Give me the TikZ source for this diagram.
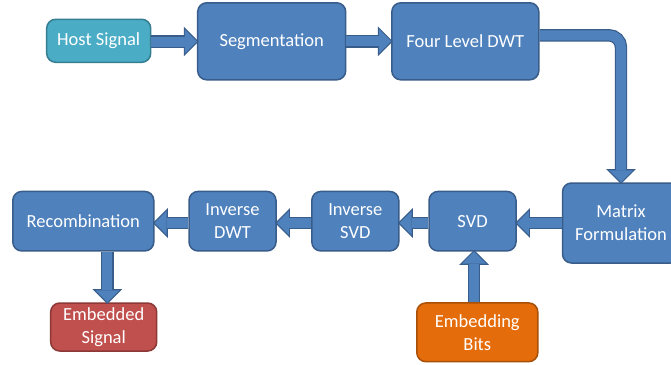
\documentclass[tikz,border=0pt]{standalone}
\usepackage{fontspec}
\setmainfont{Carlito}
\usetikzlibrary{arrows.meta}
\definecolor{fblue}{HTML}{4F81BD}
\definecolor{eblue}{HTML}{385D8A}
\definecolor{fteal}{HTML}{4BACC6}
\definecolor{eteal}{HTML}{357D91}
\definecolor{fred}{HTML}{C0504D}
\definecolor{ered}{HTML}{8C3836}
\definecolor{forange}{HTML}{E46C0A}
\definecolor{eorange}{HTML}{A85008}
\tikzset{
  box/.style={draw=eblue, fill=fblue, line width=1.5pt, rounded corners=9pt,
    text=white, align=center, font=\fontsize{18.5}{23}\selectfont, inner sep=0pt},
  barrow/.style={draw=fblue, line width=10pt,
    -{Triangle[length=12pt,width=24pt,line width=0pt]},
    preaction={draw=eblue, line width=12.4pt, shorten >=-1.7pt,
      -{Triangle[length=14.9pt,width=29.8pt,line width=0pt]}}},
  cornerarrow/.style={barrow, rounded corners=12pt},
}
\begin{document}
\begin{tikzpicture}[x=1pt,y=-1pt]
\clip (0,0) rectangle (671,364);
\fill[white] (0,0) rectangle (671,364);
\node[box, fill=fteal, draw=eteal, minimum width=104pt, minimum height=43pt] (host) at (98.7,40.8) {Host Signal};
\node[box, minimum width=148pt, minimum height=77pt] (seg) at (271.7,41.3) {Segmentation};
\node[box, minimum width=147pt, minimum height=77pt] (dwt) at (465.3,41.3) {Four Level DWT};
\node[box, minimum width=117pt, minimum height=80pt] (mat) at (621,223) {Matrix\\Formulation};
\node[box, minimum width=87pt, minimum height=59.5pt] (svd) at (472.5,221.2) {SVD};
\node[box, minimum width=87pt, minimum height=59.5pt] (isvd) at (355.3,221.2) {Inverse\\SVD};
\node[box, minimum width=87pt, minimum height=59.5pt] (idwt) at (232.5,221.2) {Inverse\\DWT};
\node[box, minimum width=141pt, minimum height=59.5pt] (rec) at (83.3,221.2) {Recombination};
\node[box, fill=fred, draw=ered, minimum width=106pt, minimum height=48pt] (emb) at (103.7,327) {Embedded\\Signal};
\node[box, fill=forange, draw=eorange, minimum width=121pt, minimum height=58.7pt] (bits) at (477.3,332.3) {Embedding\\Bits};

\draw[barrow] ([yshift=-0.7pt]host.east) -- ([yshift=-0.7pt]host.east -| seg.west);
\draw[barrow] (seg.east) -- (dwt.west);
\draw[cornerarrow] ([yshift=6pt]dwt.east) -| (mat.north);
\draw[barrow] (mat.west) -- (mat.west -| svd.east);
\draw[barrow] ([yshift=-1.8pt]svd.west) -- ([yshift=-1.8pt]isvd.east);
\draw[barrow] ([yshift=-1.8pt]isvd.west) -- ([yshift=-1.8pt]idwt.east);
\draw[barrow] ([yshift=-1.8pt]idwt.west) -- ([yshift=-1.8pt]rec.east);
\draw[barrow] ([xshift=24pt]rec.south) -- ([xshift=24pt]rec.south |- emb.north);
\draw[barrow] ([xshift=1.5pt]svd.south |- bits.north) -- ([xshift=1.5pt]svd.south);
\end{tikzpicture}
\end{document}
